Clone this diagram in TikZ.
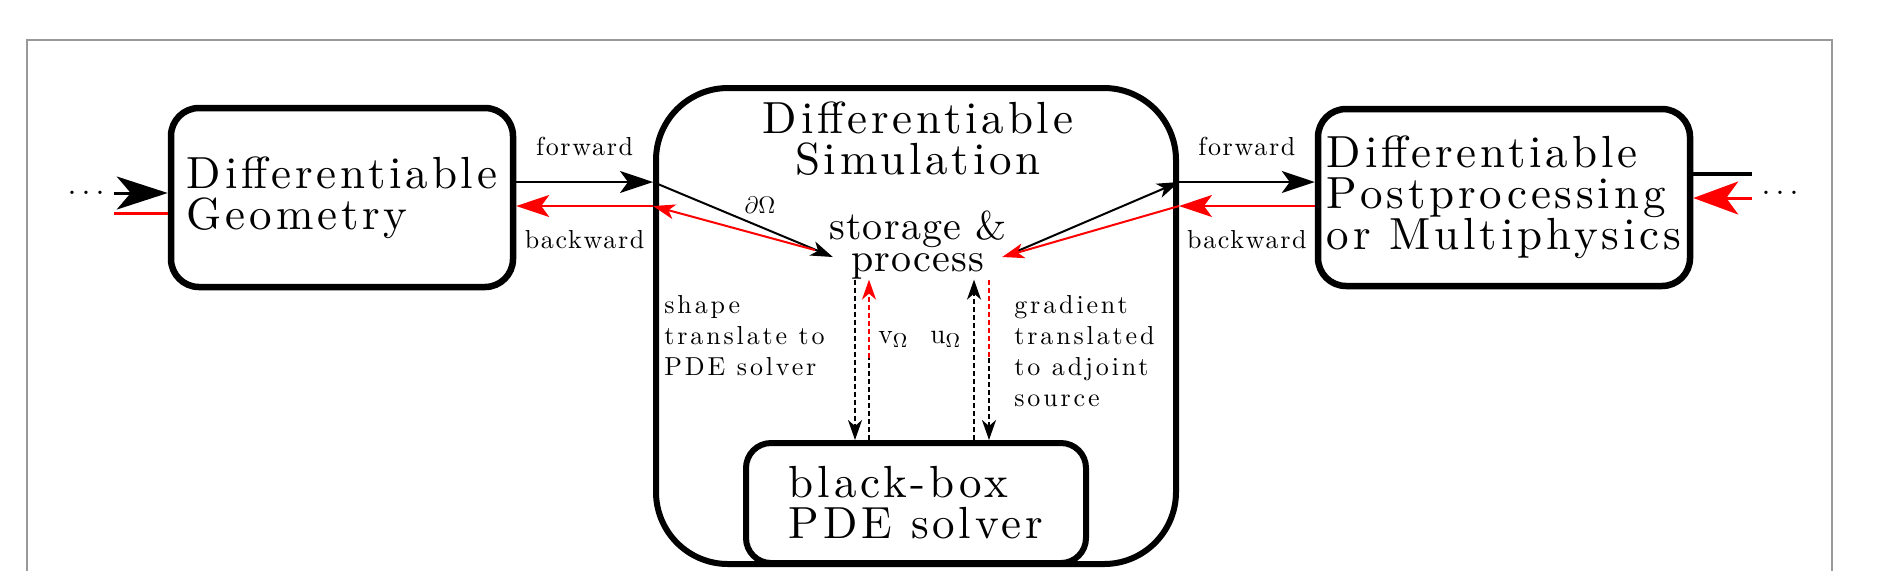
\documentclass[tikz,border=0pt]{standalone}
\usepackage{fontspec}
\usetikzlibrary{arrows.meta,positioning}

\newfontfamily\boxfam{lmroman10-regular}[Extension=.otf, LetterSpace=8.5]
\newfontfamily\storefam{lmroman10-regular}[Extension=.otf, LetterSpace=3]
\newfontfamily\tagfam{lmroman10-regular}[Extension=.otf, LetterSpace=6.5]
\newfontfamily\notefam{lmroman10-regular}[Extension=.otf, LetterSpace=11]
\newfontfamily\dotfam{lmroman10-regular}[Extension=.otf, LetterSpace=16]
\newcommand{\boxfont}{\boxfam\fontsize{22.5}{20.5}\selectfont}
\newcommand{\storefont}{\storefam\fontsize{20}{16}\selectfont}
\newcommand{\tagfont}{\tagfam\fontsize{13}{15.5}\selectfont}
\newcommand{\notefont}{\notefam\fontsize{13}{15.5}\selectfont}
\newcommand{\dotfont}{\dotfam\fontsize{16}{16}\selectfont}

\begin{document}
\begin{tikzpicture}[
		x=0.5pt, y=-0.5pt,
		bigbox/.style={draw, line width=3.25pt, rounded corners=14pt, align=left, inner sep=0pt, font=\boxfont},
		tag/.style={inner sep=0pt, text=black, font=\tagfont},
		note/.style={inner sep=0pt, align=left, anchor=north west, font=\notefont},
		sub/.style={inner sep=0pt, anchor=base west, font=\fontsize{14}{14}\selectfont},
		fwd/.style={line width=1pt, -{Stealth[length=16.5pt, width=11pt, inset=4pt]}},
		bwd/.style={fwd, red},
		dfwd/.style={line width=1pt, -{Stealth[length=11pt, width=7.5pt, inset=3pt]}},
		dbwd/.style={dfwd, red},
		dline/.style={line width=0.9pt, dash pattern=on 2.5pt off 1.5pt},
		dtip/.style={-{Stealth[length=10pt, width=7pt, inset=3pt]}}]
		\useasboundingbox (0,0) rectangle (1900,570);
		\draw [black!40, line width=0.75pt] (27,600) -- (27,40) -- (1832,40) -- (1832,600);

		% boxes
		\node [bigbox, minimum width=171pt, minimum height=89.5pt] (geo) at (342,197.5) {Differentiable\\Geometry};
		\node [bigbox, minimum width=186pt, minimum height=88.5pt] (post) at (1504,197.5) {Differentiable\\Postprocessing\\or Multiphysics};
		\node [bigbox, line width=3pt, rounded corners=36pt, minimum width=260pt, minimum height=238pt] (sim) at (916,326) {};
		\node [font=\boxfont, align=center, inner sep=0pt] (simtitle) at (918,138.5) {Differentiable\\Simulation};
		\node [bigbox, line width=3pt, rounded corners=12.5pt, minimum width=170pt, minimum height=60pt] (pde) at (916,503) {black-box\\PDE solver};
		\node [font=\storefont, align=center, inner sep=0pt] (store) at (918,245) {storage \&\\process};
		\node [font=\dotfont, inner sep=4.5pt] (dotsL) at (86,193) {...};
		\node [font=\dotfont, inner sep=4.5pt] (dotsR) at (1780,193) {...};

		% rows and columns
		\coordinate (rowF) at (0,182);
		\coordinate (rowB) at (0,206);
		\coordinate (rowR) at (0,213);
		\coordinate (rowPk) at (0,174);
		\coordinate (rowPr) at (0,198);
		\coordinate (rowM) at (0,358);
		\coordinate (c1) at (855,0);
		\coordinate (c2) at (869,0);
		\coordinate (c3) at (974,0);
		\coordinate (c4) at (989,0);

		% outer chain
		\draw [line width=1.5pt, -{Stealth[length=25.5pt, width=16.5pt, inset=7pt]}] (dotsL.east) -- (geo.west |- dotsL.east);
		\draw [red, line width=1.5pt] (dotsL.east |- rowR) -- (geo.west |- rowR);
		\draw [line width=2pt] (post.east |- rowPk) -- (dotsR.west |- rowPk);
		\draw [red, line width=1.5pt, -{Stealth[length=22.5pt, width=16.5pt, inset=6pt]}] (dotsR.west |- rowPr) -- (post.east |- rowPr);

		\draw [fwd] (geo.east |- rowF) -- (sim.west |- rowF) node [tag, midway, above=12.5pt] {forward};
		\draw [bwd] (sim.west |- rowB) -- (geo.east |- rowB) node [tag, midway, below=11.5pt] {backward};
		\draw [fwd] (sim.east |- rowF) -- (post.west |- rowF) node [tag, midway, above=12.5pt] {forward};
		\draw [bwd] (post.west |- rowB) -- (sim.east |- rowB) node [tag, midway, below=11.5pt] {backward};

		% inside the simulation
		\draw [dfwd] (sim.west |- rowF) -- ([shift={(4,12)}]store.west);
		\draw [dbwd] ([shift={(-14,5)}]store.west) -- (sim.west |- rowB);
		\draw [dfwd] ([shift={(8,7)}]store.east) -- (sim.east |- rowF);
		\draw [dbwd] (sim.east |- rowB) -- ([shift={(-5,12)}]store.east);
		\node [font=\fontsize{12}{12}\selectfont, inner sep=0pt] (bnd) at (760,205) {$\partial\Omega$};

		\draw [dline, dtip] (c1 |- store.south) -- (c1 |- pde.north);
		\draw [dline] (c2 |- pde.north) -- (c2 |- rowM);
		\draw [dline, dtip, red] (c2 |- rowM) -- (c2 |- store.south);
		\draw [dline, dtip] (c3 |- pde.north) -- (c3 |- store.south);
		\draw [dline, red] (c4 |- store.south) -- (c4 |- rowM);
		\draw [dline, dtip] (c4 |- rowM) -- (c4 |- pde.north);

		\node [note] (shape) at (664,295) {shape\\translate to\\PDE solver};
		\node [note] (grad) at (1014,295) {gradient\\translated\\to adjoint\\source};
		\node [sub] (vom) at (878,343) {v$_\Omega$};
		\node [sub] (uom) at (930,343) {u$_\Omega$};
		\end{tikzpicture}
\end{document}
